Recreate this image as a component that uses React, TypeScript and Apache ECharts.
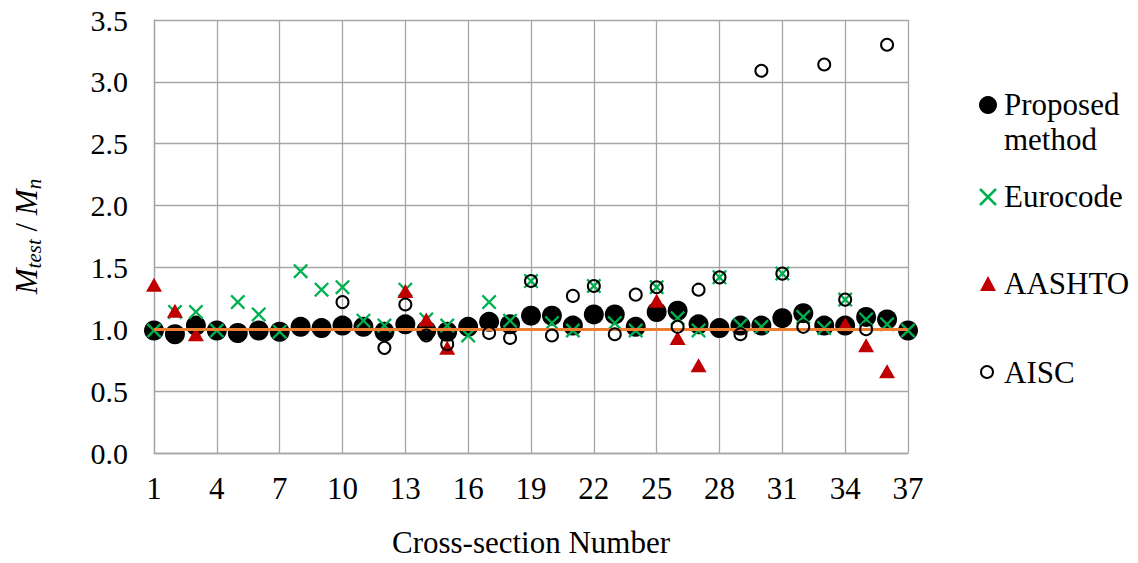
import React, { useEffect, useRef } from "react";
import * as echarts from "echarts";

// Cross-section numbers (x axis categories)
const sections = [
  "1", "2", "3", "4", "5", "6", "7", "8", "9", "10", "11", "12", "13",
  "14", "15", "16", "17", "18", "19", "20", "21", "22", "23", "24", "25",
  "26", "27", "28", "29", "30", "31", "32", "33", "34", "35", "36", "37",
];

// Mtest / Mn ratios per cross-section
const proposed = [
  0.99, 0.96, 1.03, 0.99, 0.97, 0.99, 0.98, 1.02, 1.01, 1.03, 1.02, 0.98, 1.04,
  0.99, 0.98, 1.02, 1.06, 1.04, 1.11, 1.11, 1.03, 1.12, 1.12, 1.02, 1.14,
  1.15, 1.04, 1.01, 1.03, 1.03, 1.09, 1.13, 1.03, 1.03, 1.10, 1.08, 0.99,
];
const eurocode = [
  0.99, 1.14, 1.14, 0.99, 1.22, 1.12, 0.98, 1.47, 1.32, 1.34, 1.07, 1.03, 1.32,
  1.08, 1.03, 0.95, 1.22, 1.07, 1.39, 1.05, 0.99, 1.35, 1.05, 0.99, 1.34,
  1.09, 0.99, 1.42, 1.03, 1.02, 1.45, 1.10, 1.01, 1.24, 1.08, 1.04, 0.99,
];
const aashto = [
  1.36, 1.15, 0.96, null, null, null, null, null, null, null, null, null, 1.31,
  1.08, 0.85, null, null, null, null, null, null, null, null, null, 1.23,
  0.93, 0.71, null, null, null, null, null, null, 1.04, 0.87, 0.66, null,
];
const aisc = [
  null, null, null, null, null, null, null, null, null, 1.22, null, 0.85, 1.20,
  0.95, 0.88, null, 0.97, 0.93, 1.39, 0.95, 1.27, 1.35, 0.96, 1.28, 1.34,
  1.02, 1.32, 1.42, 0.96, 3.09, 1.45, 1.02, 3.14, 1.24, 1.00, 3.30, null,
];
const unityRatio = 1.0;

// Legend entry labels
const legendLabels = ["Proposed\nmethod", "Eurocode", "AASHTO", "AISC"];

const FONT = "Liberation Serif";
const GRID_COLOR = "#a6a6a6";
const CROSS_PATH =
  "path://M0,1.1 L1.1,0 L5,3.9 L8.9,0 L10,1.1 L6.1,5 L10,8.9 L8.9,10 L5,6.1 L1.1,10 L0,8.9 L3.9,5 Z";

export default function App() {
  const ref = useRef<HTMLDivElement>(null);

  useEffect(() => {
    if (!ref.current) return;
    const chart = echarts.init(ref.current, undefined, { renderer: "svg" });

    const legendX = 988;
    const legendTextX = 1004;
    const legendTops = [87, 179, 266, 355];

    const legendTitles = legendLabels.map((text, i) => ({
      text,
      left: legendTextX,
      top: legendTops[i],
      padding: 0,
      textStyle: {
        fontFamily: FONT,
        fontSize: 31,
        fontWeight: "normal",
        color: "#000",
        lineHeight: 35,
      },
    }));

    chart.setOption({
      animation: false,
      backgroundColor: "#fff",
      textStyle: { fontFamily: FONT },
      title: legendTitles,
      grid: { left: 154, right: 230, top: 20, bottom: 108, containLabel: false },
      xAxis: {
        type: "category",
        data: sections,
        boundaryGap: false,
        name: "Cross-section Number",
        nameLocation: "middle",
        nameGap: 74,
        nameTextStyle: { fontFamily: FONT, fontSize: 31, color: "#000" },
        axisLine: { show: true, lineStyle: { color: GRID_COLOR, width: 1.3 } },
        axisTick: { show: false },
        axisLabel: {
          interval: 2,
          fontFamily: FONT,
          fontSize: 31,
          color: "#000",
          margin: 20,
        },
        splitLine: {
          show: true,
          interval: 2,
          lineStyle: { color: GRID_COLOR, width: 1.3 },
        },
      },
      yAxis: {
        type: "value",
        min: 0,
        max: 3.5,
        interval: 0.5,
        name: "{i|M}{s|test}{n| / }{i|M}{s|n}",
        nameLocation: "middle",
        nameRotate: 90,
        nameGap: 110,
        nameTextStyle: {
          fontFamily: FONT,
          color: "#000",
          rich: {
            i: { fontFamily: FONT, fontStyle: "italic", fontSize: 31, color: "#000" },
            s: {
              fontFamily: FONT,
              fontStyle: "italic",
              fontSize: 21,
              color: "#000",
              padding: [14, 0, 0, 0],
            },
            n: { fontFamily: FONT, fontSize: 31, color: "#000" },
          },
        },
        axisLine: { show: true, lineStyle: { color: GRID_COLOR, width: 1.3 } },
        axisTick: { show: false },
        axisLabel: {
          fontFamily: FONT,
          fontSize: 30,
          color: "#000",
          margin: 26,
          formatter: (v: number) => v.toFixed(1),
        },
        splitLine: { show: true, lineStyle: { color: GRID_COLOR, width: 1.3 } },
      },
      series: [
        {
          name: "Unity",
          type: "line",
          data: [],
          z: 1,
          markLine: {
            silent: true,
            symbol: "none",
            label: { show: false },
            lineStyle: { color: "#ED7D31", width: 3, type: "solid", opacity: 1 },
            data: [{ yAxis: unityRatio }],
          },
        },
        {
          name: "Proposed method",
          type: "scatter",
          data: proposed,
          z: 2,
          symbol: "circle",
          symbolSize: 20,
          itemStyle: { color: "#000", opacity: 1 },
        },
        {
          name: "Eurocode",
          type: "scatter",
          data: eurocode,
          z: 3,
          symbol: CROSS_PATH,
          symbolSize: 15,
          itemStyle: { color: "#00B050", opacity: 1 },
        },
        {
          name: "AASHTO",
          type: "scatter",
          data: aashto,
          z: 4,
          symbol: "triangle",
          symbolSize: [16, 14],
          itemStyle: { color: "#C00000", opacity: 1 },
        },
        {
          name: "AISC",
          type: "scatter",
          data: aisc,
          z: 5,
          symbol: "circle",
          symbolSize: 12,
          itemStyle: {
            color: "transparent",
            borderColor: "#000",
            borderWidth: 2,
            opacity: 1,
          },
        },
      ],
      graphic: [
        { type: "circle", shape: { cx: legendX, cy: 105, r: 9 }, style: { fill: "#000" } },
        {
          type: "line",
          shape: { x1: legendX - 8, y1: 189, x2: legendX + 8, y2: 205 },
          style: { stroke: "#00B050", lineWidth: 2.5 },
        },
        {
          type: "line",
          shape: { x1: legendX - 8, y1: 205, x2: legendX + 8, y2: 189 },
          style: { stroke: "#00B050", lineWidth: 2.5 },
        },
        {
          type: "polygon",
          shape: { points: [[legendX - 8, 291], [legendX + 8, 291], [legendX, 276]] },
          style: { fill: "#C00000" },
        },
        {
          type: "circle",
          shape: { cx: legendX - 1, cy: 372, r: 6 },
          style: { fill: "none", stroke: "#000", lineWidth: 2 },
        },
      ],
    });

    return () => chart.dispose();
  }, []);

  return (
    <div
      ref={ref}
      style={{ position: "fixed", left: 0, top: 0, width: 1138, height: 563 }}
    />
  );
}
